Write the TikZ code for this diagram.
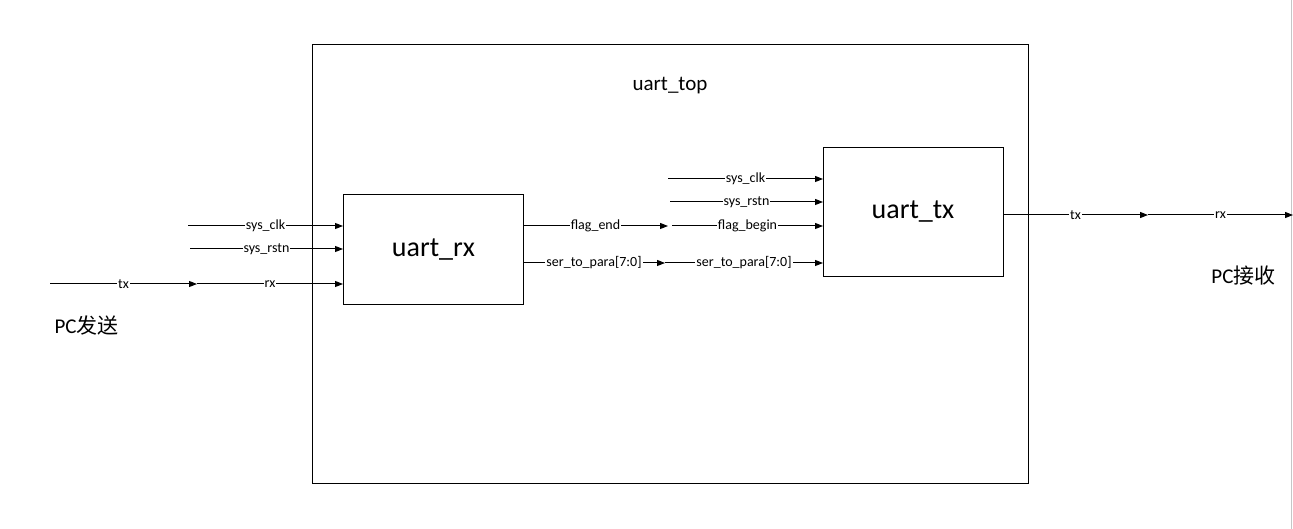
\documentclass[tikz,border=0pt]{standalone}
\usepackage{fontspec}
\setmainfont{Carlito}
\newfontfamily\cjk{Noto Sans CJK SC}
\usetikzlibrary{arrows.meta}
\begin{document}
\begin{tikzpicture}[x=1pt,y=-1pt,
  box/.style={draw,line width=1pt,inner sep=0pt,anchor=north west},
  wire/.style={line width=1pt,-{Triangle[length=8pt,width=6pt]}},
  lbl/.style={fill=white,inner sep=1pt,font=\fontsize{14}{16}\selectfont},
  big/.style={font=\fontsize{28}{32}\selectfont},
  mid/.style={font=\fontsize{21}{24}\selectfont}]
\useasboundingbox (0,0) rectangle (1293,529);
\draw[line width=0.8pt,gray!45] (1291.5,0) -- (1291.5,529);
% boxes
\node[box,minimum width=716pt,minimum height=439pt] (top) at (312,44) {};
\node[box,minimum width=180pt,minimum height=110pt] (rx) at (343,194) {};
\node[box,minimum width=180pt,minimum height=129pt] (tx) at (823,147) {};
\node[mid] (toplbl) at (670,86) {uart\_top};
\node[big] (rxlbl) at (rx.center) {uart\_rx};
\node[big] (txlbl) at (913,212) {uart\_tx};
% left side coordinates
\coordinate (clkA) at (188,226);
\coordinate (rstA) at (190,249);
\coordinate (txA) at (50,284);
\coordinate (txB) at (197,284);
\draw[wire] (clkA) -- node[lbl] {sys\_clk} (rx.west |- clkA);
\draw[wire] (rstA) -- node[lbl] {sys\_rstn} (rx.west |- rstA);
\draw[wire] (txA) -- node[lbl] {tx} (txB);
\draw[wire] (txB) -- node[lbl] {rx} (rx.west |- txB);
\node[mid,anchor=west] (pcs) at (51,326) {PC{\cjk 发送}};
% middle
\coordinate (feA) at (523,226);
\coordinate (feB) at (668,226);
\coordinate (fbA) at (672,226);
\coordinate (spA) at (523,263);
\coordinate (spB) at (665,263);
\coordinate (clkC) at (668,179);
\coordinate (rstC) at (670,202);
\draw[wire] (feA) -- node[lbl] {flag\_end} (feB);
\draw[wire] (fbA) -- node[lbl] {flag\_begin} (tx.west |- fbA);
\draw[wire] (spA) -- node[lbl] {ser\_to\_para[7:0]} (spB);
\draw[wire] (spB) -- node[lbl] {ser\_to\_para[7:0]} (tx.west |- spB);
\draw[wire] (clkC) -- node[lbl] {sys\_clk} (tx.west |- clkC);
\draw[wire] (rstC) -- node[lbl] {sys\_rstn} (tx.west |- rstC);
% right
\coordinate (otA) at (1003,215);
\coordinate (otB) at (1148,215);
\coordinate (otC) at (1293,215);
\draw[wire] (otA) -- node[lbl] {tx} (otB);
\draw[wire] (otB) -- node[lbl] {rx} (otC);
\node[mid,anchor=east] (pcr) at (1279,276) {PC{\cjk 接收}};
\end{tikzpicture}
\end{document}
